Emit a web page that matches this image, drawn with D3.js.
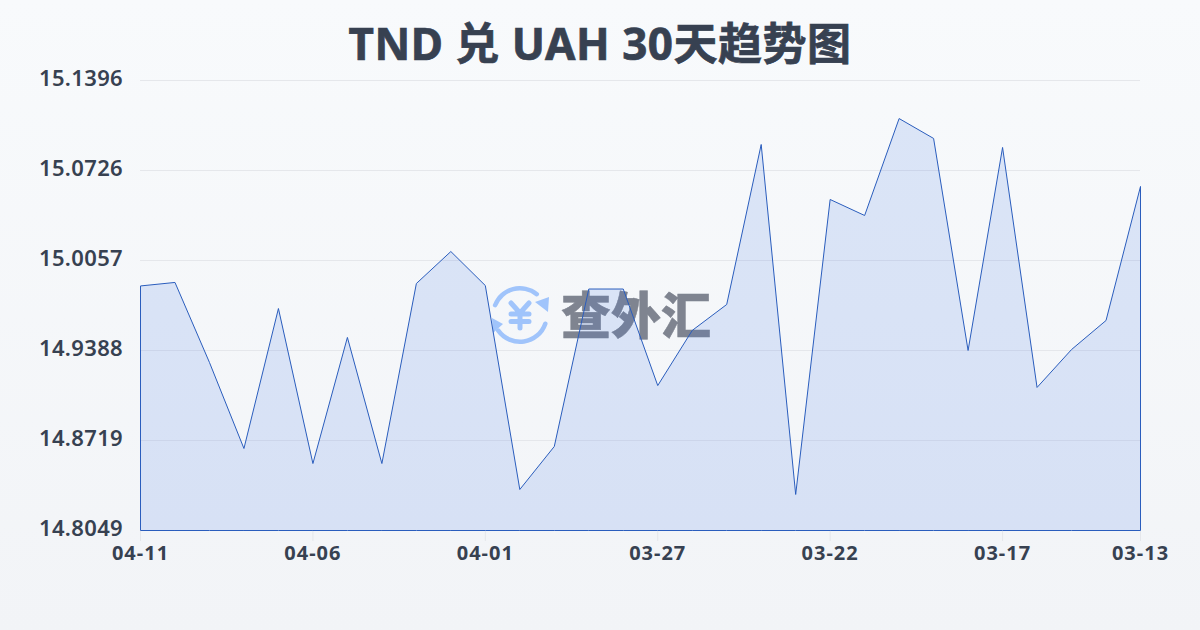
<!DOCTYPE html>
<html><head><meta charset="utf-8">
<script src="https://cdn.jsdelivr.net/npm/d3@7"></script>
<style>
html,body{margin:0;padding:0;width:1200px;height:630px;overflow:hidden}
svg{display:block}
</style></head><body>
<svg id="c" width="1200" height="630"></svg>
<script>
const titleText = "TND 兑 UAH 30天趋势图";
const watermarkText = "查外汇";
const dates = ["04-11","04-10","04-09","04-08","04-07","04-06","04-05","04-04","04-03","04-02","04-01","03-31","03-30","03-29","03-28","03-27","03-26","03-25","03-24","03-23","03-22","03-21","03-20","03-19","03-18","03-17","03-16","03-15","03-14","03-13"];
const rates = [14.9868,14.9894,14.9299,14.8659,14.9700,14.8547,14.9485,14.8547,14.9886,15.0124,14.9871,14.8354,14.8674,14.9845,14.9845,14.9127,14.9537,14.9730,15.0920,14.8317,15.0511,15.0392,15.1113,15.0965,14.9388,15.0898,14.9113,14.9395,14.9611,15.0608];
const yTicks = [15.1396,15.0726,15.0057,14.9388,14.8719,14.8049];
const xTickLabels = ["04-11","04-06","04-01","03-27","03-22","03-17","03-13"];

const svg = d3.select("#c");
const defs = svg.append("defs");
const bg = defs.append("linearGradient").attr("id","bg").attr("x1",0).attr("y1",0).attr("x2",0).attr("y2",1);
bg.append("stop").attr("offset",0).attr("stop-color","#f8fafc");
bg.append("stop").attr("offset",1).attr("stop-color","#f2f4f7");
svg.append("rect").attr("width",1200).attr("height",630).attr("fill","url(#bg)");

const x = d3.scalePoint().domain(dates).range([140.5,1140.5]);
const y = d3.scaleLinear().domain([14.8049,15.1396]).range([530.5,80.5]);
const ink = "#374151", font = "'Noto Sans','Noto Sans CJK SC',sans-serif";

svg.append("text").attr("x",600).attr("y",60).attr("text-anchor","middle")
  .attr("font-family",font).attr("font-weight",700).attr("font-size",44).attr("letter-spacing",0.5)
  .attr("fill",ink).attr("stroke",ink).attr("stroke-width",0.7).text(titleText);

// grid
svg.append("g").selectAll("line").data(yTicks.slice(0,-1)).join("line")
  .attr("x1",140).attr("x2",1140).attr("y1",d=>Math.floor(y(d))+.5).attr("y2",d=>Math.floor(y(d))+.5)
  .attr("stroke","#e5e7eb").attr("stroke-width",1);

// watermark
const wm = svg.append("g");
const blue = "#a0c4fb";
const ring = d3.arc().innerRadius(24.5).outerRadius(29).cornerRadius(2.2);
wm.append("path").attr("d",ring({startAngle:-1.28,endAngle:0.76})).attr("transform","translate(520,315)").attr("fill",blue);
wm.append("path").attr("d",ring({startAngle:1.82,endAngle:4.17})).attr("transform","translate(520,315)").attr("fill",blue);
wm.append("path").attr("d",d3.line()([[535,302],[549,297],[548,312]])).attr("fill",blue);
wm.append("path").attr("d",d3.line()([[492,318],[503,324],[493,333]])).attr("fill",blue);
wm.append("path").attr("d","M511 303L520 313L529 303M520 313V328M511 314H529M511 321.5H529").attr("fill","none").attr("stroke",blue).attr("stroke-width",5).attr("stroke-linecap","round").attr("stroke-linejoin","round");
wm.append("text").attr("x",636).attr("y",334).attr("text-anchor","middle")
  .attr("font-family","'Noto Sans CJK SC'").attr("font-weight",900).attr("font-size",50)
  .attr("fill","#7f8490").attr("stroke","#7f8490").attr("stroke-width",0.5).text(watermarkText);

// area + line
const area = d3.area().x(d=>x(d.d)).y0(y(14.8049)).y1(d=>y(d.v));
const pts = dates.map((d,i)=>({d,v:rates[i]}));
svg.append("path").datum(pts).attr("d",area).attr("fill","#3a71e5").attr("fill-opacity",.15)
  .attr("stroke","#2a5dbd").attr("stroke-width",1).attr("stroke-linejoin","round");

// axes
const ya = svg.append("g").attr("font-family",font).attr("font-weight",600).attr("font-size",22).attr("letter-spacing",0.35).attr("fill",ink);
ya.selectAll("text").data(yTicks).join("text").attr("x",123).attr("y",d=>Math.floor(y(d))+6).attr("text-anchor","end").text(d=>d.toFixed(4));

const xa = svg.append("g");
xa.selectAll("line").data(xTickLabels).join("line")
  .attr("x1",d=>x(d)).attr("x2",d=>x(d)).attr("y1",531).attr("y2",541).attr("stroke","#e5e7eb");
xa.selectAll("text").data(xTickLabels).join("text").attr("x",d=>x(d)).attr("y",560).attr("text-anchor","middle")
  .attr("font-family",font).attr("font-weight",700).attr("font-size",20).attr("letter-spacing",1).attr("fill",ink).text(d=>d);
</script>
</body></html>
